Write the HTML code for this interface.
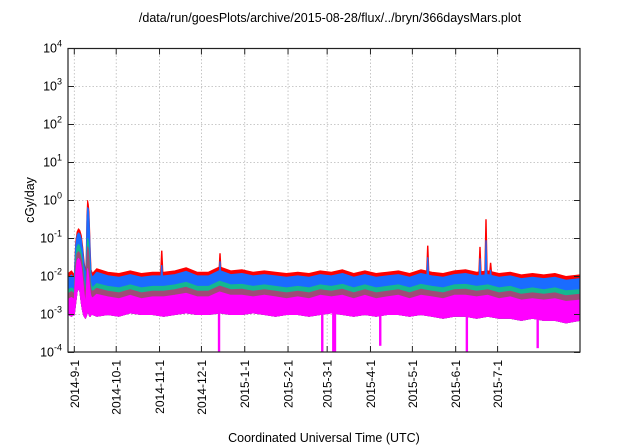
<!DOCTYPE html>
<html><head><meta charset="utf-8"><style>
body{margin:0;background:#fff;}
svg{display:block;font-family:"Liberation Sans",Arial,sans-serif;}
</style></head><body>
<svg id="chart" width="640" height="448" viewBox="0 0 640 448" xmlns="http://www.w3.org/2000/svg">
<text x="330" y="22" font-size="12.5" text-anchor="middle">/data/run/goesPlots/archive/2015-08-28/flux/../bryn/366daysMars.plot</text>
<text transform="translate(34,200) rotate(-90)" font-size="12.5" text-anchor="middle">cGy/day</text>
<text x="324" y="442" font-size="12.5" text-anchor="middle">Coordinated Universal Time (UTC)</text>
<g id="grid"></g><g id="series"></g><g id="axes"></g>
</svg>
<script>
const monthLabels=["2014-9-1","2014-10-1","2014-11-1","2014-12-1","2015-1-1","2015-2-1","2015-3-1","2015-4-1","2015-5-1","2015-6-1","2015-7-1"];
const monthDays=[0,30,61,91,122,153,181,212,242,273,303];
const yExps=[-4,-3,-2,-1,0,1,2,3,4];
const days=[-4.5,-2,0,1,2,3,4,5,6,7,8,8.5,9,9.5,10,10.5,11,11.5,12,13,16,24,32,40,48,56,64,72,80,88,96,104,112,120,128,136,144,152,160,168,176,184,192,200,208,216,224,232,240,248,256,264,272,280,288,296,304,312,320,328,336,344,352,362];
const redVals=[.012,.014,.011,.08,.15,.18,.16,.12,.06,.025,.012,.03,.4,1.0,.8,.5,.15,.04,.015,.012,.016,.013,.012,.014,.012,.013,.013,.014,.017,.013,.013,.018,.014,.015,.013,.014,.013,.012,.013,.012,.014,.013,.015,.012,.014,.012,.013,.014,.012,.015,.013,.012,.014,.015,.013,.014,.012,.013,.011,.012,.011,.012,.010,.011];
const blueVals=[.009,.011,.009,.065,.12,.14,.13,.095,.048,.02,.009,.022,.28,.65,.6,.35,.11,.028,.012,.0095,.013,.0105,.0096,.0112,.0096,.0104,.0104,.0112,.0136,.0104,.0104,.0144,.0112,.012,.0104,.0112,.0104,.0096,.0104,.0096,.0112,.0104,.012,.0096,.0112,.0096,.0104,.0112,.0096,.012,.0104,.0096,.0112,.012,.0104,.0112,.0096,.0104,.0088,.0096,.0088,.0096,.008,.0088];
const tealVals=[.0045,.005,.0045,.03,.06,.07,.06,.04,.02,.008,.004,.008,.05,.1,.08,.05,.02,.008,.006,.005,.0065,.0055,.005,.006,.005,.0055,.0055,.006,.007,.0055,.0055,.0075,.006,.0062,.0055,.006,.0055,.005,.0055,.005,.006,.0055,.0062,.005,.006,.005,.0055,.006,.005,.0062,.0055,.005,.006,.0062,.0055,.006,.005,.0055,.0045,.005,.0045,.005,.0042,.0045];
const purpleVals=[.0035,.004,.0035,.02,.04,.045,.04,.028,.014,.006,.003,.006,.03,.06,.05,.03,.012,.006,.0045,.004,.0049,.0041,.0037,.0045,.0037,.0041,.0041,.0045,.0052,.0041,.0041,.0056,.0045,.0046,.0041,.0045,.0041,.0037,.0041,.0037,.0045,.0041,.0046,.0037,.0045,.0037,.0041,.0045,.0037,.0046,.0041,.0037,.0045,.0046,.0041,.0045,.0037,.0041,.0034,.0037,.0034,.0037,.0031,.0034];
const magTopVals=[.0025,.0028,.0025,.012,.026,.03,.026,.017,.008,.0035,.0018,.0035,.008,.016,.012,.008,.005,.0035,.003,.0027,.0034,.0029,.0026,.0032,.0026,.0029,.0029,.0032,.0036,.0029,.0029,.0039,.0032,.0032,.0029,.0032,.0029,.0026,.0029,.0026,.0032,.0029,.0032,.0026,.0032,.0026,.0029,.0032,.0026,.0032,.0029,.0026,.0032,.0032,.0029,.0032,.0026,.0029,.0024,.0026,.0024,.0026,.0022,.0024];
const magBotVals=[.001,.0009,.001,.002,.004,.005,.004,.002,.0012,.0009,.0008,.0009,.001,.0012,.0012,.001,.0009,.0009,.001,.001,.0009,.0010,.0009,.0011,.0010,.0010,.0009,.0010,.0011,.0010,.0010,.0011,.0010,.0010,.0011,.0010,.0009,.0010,.0010,.0009,.0010,.0011,.0010,.0009,.0010,.0009,.0010,.0010,.0009,.0010,.0009,.0008,.0009,.0009,.0008,.0009,.0008,.0008,.0007,.0008,.0007,.0007,.0006,.0007];
const spikeDays=[62.6,104.3,253,290.4,294.7,298];
const spikeRed=[.048,.041,.065,.06,.32,.023];
const spikeBlue=[.02,.025,.032,.03,.09,.015];
const dipDays=[103.6,177.5,185.4,186.6,219,281,331.7];
const dipVals=[.0001,.0001,.0001,.0001,.00015,.0001,.00013];

const L=68,R=580,T=48.5,B=352;
const X=d=>74.3+d*1.397;
const Y=v=>T+(4-Math.log10(v))*38;
const NS="http://www.w3.org/2000/svg";
function mk(tag,attrs,parent){const e=document.createElementNS(NS,tag);for(const k in attrs)e.setAttribute(k,attrs[k]);parent.appendChild(e);return e;}
const grid=document.getElementById('grid'),ser=document.getElementById('series'),ax=document.getElementById('axes');
yExps.forEach(e=>{const y=Y(Math.pow(10,e));
 if(e>-4&&e<4){const g=mk('line',{x1:L,x2:R,y1:y,y2:y,stroke:'#b8b8b8','stroke-width':0.8,'stroke-dasharray':'1.5,2'},grid);
 
 }
 const t1=mk('line',{x1:L,x2:L+6,y1:y,y2:y,stroke:'#222','stroke-width':1},ax);
 
 
 const t2=mk('line',{x1:R-6,x2:R,y1:y,y2:y,stroke:'#222','stroke-width':1},ax);
 
 
 const tx=mk('text',{x:62,y:y+4,'font-size':12.5,'text-anchor':'end'},ax);
 
 
 tx.textContent='10';
 const sp=mk('tspan',{dy:-6,'font-size':9},tx);sp.textContent=String(e);
});
monthDays.forEach((d,i)=>{const x=X(d);
 const g=mk('line',{x1:x,x2:x,y1:T,y2:B,stroke:'#b8b8b8','stroke-width':0.8,'stroke-dasharray':'1.5,2'},grid);
 
 
 const t1=mk('line',{x1:x,x2:x,y1:B-6,y2:B,stroke:'#222','stroke-width':1},ax);
 
 
 const t2=mk('line',{x1:x,x2:x,y1:T,y2:T+6,stroke:'#222','stroke-width':1},ax);
 
 
 const tx=mk('text',{transform:`translate(${x+4.5},360) rotate(-90)`,'font-size':12,'text-anchor':'end'},ax);
 
 
 tx.textContent=monthLabels[i];
});
function clampX(x){return Math.max(L,Math.min(R,x));}
function band(top,bot,color,name){
 let p=days.map((d,i)=>clampX(X(d)).toFixed(1)+','+Y(top[i]).toFixed(1));
 let q=days.map((d,i)=>clampX(X(d)).toFixed(1)+','+Y(bot[i]).toFixed(1)).reverse();
 const e=mk('polygon',{points:p.concat(q).join(' '),fill:color,stroke:color,'stroke-width':1,'stroke-linejoin':'round'},ser);
 
 
}
band(redVals,magBotVals,'#ff0000','series-red');
spikeDays.forEach((d,i)=>{const x=X(d);
 const e=mk('polygon',{points:`${x-1.8},${Y(redVals[0])+2} ${x-0.7},${Y(spikeRed[i])} ${x+0.7},${Y(spikeRed[i])} ${x+1.8},${Y(redVals[0])+2}`,fill:'#ff0000'},ser);
 
 });
band(blueVals,magBotVals,'#1a6cff','series-blue');
spikeDays.forEach((d,i)=>{const x=X(d);
 const e=mk('polygon',{points:`${x-1.6},${Y(blueVals[0])+4} ${x-0.6},${Y(spikeBlue[i])} ${x+0.6},${Y(spikeBlue[i])} ${x+1.6},${Y(blueVals[0])+4}`,fill:'#1a6cff'},ser);
 
 });
band(tealVals,magBotVals,'#14b890','series-teal');
band(purpleVals,magBotVals,'#a04a78','series-purple');
band(magTopVals,magBotVals,'#ff00ff','series-magenta');
dipDays.forEach((d,i)=>{const x=X(d);
 const e=mk('rect',{x:x-1.2,y:Y(.0011),width:2.4,height:Math.min(B,Y(dipVals[i]))-Y(.0011),fill:'#ff00ff'},ser);
 
 });
const fr=mk('rect',{x:L,y:T,width:R-L,height:B-T,fill:'none',stroke:'#222','stroke-width':1.2},ax);


</script>
</body></html>
